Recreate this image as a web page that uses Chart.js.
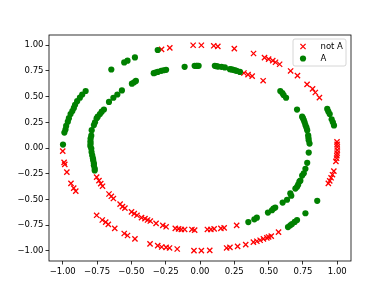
<!DOCTYPE html>
<html>
<head>
<meta charset="utf-8">
<script src="https://cdn.jsdelivr.net/npm/chart.js@4.4.1/dist/chart.umd.min.js"></script>
<style>
html,body{margin:0;padding:0;background:#fff;}
#wrap{width:390px;height:293px;position:relative;}
</style>
</head>
<body>
<div id="wrap"><canvas id="c" width="390" height="293"></canvas></div>
<script>
const xTicks = [-1, -0.75, -0.5, -0.25, 0, 0.25, 0.5, 0.75, 1];
const yTicks = [-1, -0.75, -0.5, -0.25, 0, 0.25, 0.5, 0.75, 1];
const seriesNames = ["not A", "A"];

const notA = [
  [-0.28,0.96],[-0.22,0.975],[-0.05,1.0],[0.01,1.0],[0.10,0.995],[0.13,0.99],[0.25,0.967],[0.39,0.92],
  [0.47,0.88],[0.50,0.865],[0.53,0.85],[0.55,0.835],[0.58,0.815],[0.66,0.75],[0.71,0.705],[0.78,0.62],
  [0.82,0.575],[0.84,0.54],[0.87,0.49],
  [0.32,0.73],[0.35,0.715],[0.38,0.70],[0.46,0.655],
  [0.998,0.06],[0.999,0.035],[1.0,0.01],[1.0,-0.02],[0.999,-0.05],[0.997,-0.075],[0.995,-0.10],[0.99,-0.13],
  [0.975,-0.225],[0.965,-0.26],[0.955,-0.29],[0.945,-0.32],[0.935,-0.345],
  [-1.0,-0.03],[-0.99,-0.14],[-0.985,-0.16],[-0.97,-0.235],[-0.94,-0.345],[-0.92,-0.39],[-0.905,-0.42],
  [-0.753,-0.283],[-0.736,-0.318],[-0.723,-0.347],[-0.710,-0.372],[-0.663,-0.448],[-0.646,-0.470],[-0.631,-0.492],
  [-0.582,-0.547],[-0.565,-0.570],[-0.547,-0.586],[-0.499,-0.622],[-0.479,-0.639],[-0.459,-0.655],[-0.426,-0.678],
  [-0.401,-0.688],[-0.382,-0.701],[-0.362,-0.711],[-0.320,-0.734],[-0.271,-0.753],[-0.247,-0.767],[-0.180,-0.783],
  [-0.156,-0.787],[-0.136,-0.793],[-0.112,-0.793],[-0.059,-0.793],[-0.039,-0.799],[0.054,-0.793],[0.079,-0.793],
  [0.103,-0.787],[0.152,-0.783],[0.176,-0.777],[0.267,-0.753],
  [-0.753,-0.655],[-0.712,-0.701],[-0.687,-0.721],[-0.668,-0.743],[-0.621,-0.783],[-0.552,-0.832],[-0.528,-0.852],
  [-0.474,-0.885],[-0.364,-0.934],[-0.308,-0.950],[-0.279,-0.964],[-0.247,-0.967],[-0.222,-0.973],[-0.166,-0.983],
  [-0.044,-0.999],[0.010,-0.999],[0.071,-0.996],[0.194,-0.973],[0.218,-0.967],[0.274,-0.957],[0.333,-0.940],
  [0.389,-0.917],[0.414,-0.908],[0.438,-0.898],[0.462,-0.885],[0.487,-0.875],[0.50,-0.866],[0.519,-0.858],[0.572,-0.819]
];

const isA = [
  [-0.308,0.954],[-0.646,0.764],[-0.552,0.833],[-0.528,0.850],[-0.474,0.882],
  [-0.833,0.555],[-0.858,0.521],[-0.875,0.49],[-0.895,0.456],[-0.91,0.42],[-0.919,0.39],[-0.93,0.36],
  [-0.943,0.33],[-0.955,0.29],[-0.963,0.256],[-0.975,0.215],[-0.98,0.18],[-0.988,0.15],[-0.998,0.033],
  [0.927,0.38],[0.935,0.355],[0.945,0.33],[0.959,0.28],[0.968,0.25],[0.976,0.22],
  [0.854,-0.514],[0.768,-0.635],[0.707,-0.701],[0.69,-0.72],[0.67,-0.74],[0.658,-0.753],[0.641,-0.77],
  [-0.337,0.728],[-0.325,0.735],[-0.308,0.741],[-0.283,0.751],[-0.265,0.757],[-0.247,0.761],[-0.112,0.790],
  [-0.039,0.800],[-0.020,0.80],[-0.010,0.800],
  [-0.496,0.626],[-0.480,0.64],[-0.467,0.653],
  [-0.663,0.449],[-0.631,0.489],[-0.602,0.521],[-0.569,0.560],
  [-0.745,0.305],[-0.729,0.331],[-0.716,0.354],[-0.70,0.375],
  [-0.753,0.289],[-0.765,0.25],[-0.773,0.223],[-0.789,0.174],[-0.792,0.12],[-0.797,0.092],[-0.798,0.065],
  [-0.797,0.043],[-0.799,0.02],[-0.792,-0.006],[-0.79,-0.04],[-0.785,-0.072],[-0.78,-0.10],[-0.778,-0.121],
  [-0.773,-0.15],[-0.773,-0.170],[-0.767,-0.20],[-0.767,-0.219],
  [-0.026,0.800],[0.108,0.800],[0.12,0.797],[0.132,0.793],[0.157,0.790],[0.181,0.784],[0.218,0.767],
  [0.23,0.765],[0.242,0.761],[0.255,0.756],[0.267,0.751],[0.291,0.741],
  [0.585,0.555],[0.60,0.535],[0.609,0.515],[0.627,0.489],[0.707,0.374],[0.744,0.305],[0.75,0.29],
  [0.756,0.272],[0.762,0.25],[0.768,0.223],[0.775,0.2],[0.781,0.174],[0.788,0.124],[0.79,0.1],[0.792,0.076],
  [0.798,0.043],[0.792,-0.045],[0.781,-0.144],[0.768,-0.203],[0.756,-0.246],[0.744,-0.268],[0.731,-0.318],
  [0.724,-0.327],[0.715,-0.357],[0.707,-0.377],[0.695,-0.395],[0.658,-0.442],[0.665,-0.465],[0.634,-0.504],
  [0.602,-0.531],[0.548,-0.580],[0.535,-0.59],[0.524,-0.606],[0.495,-0.629],[0.414,-0.678],[0.396,-0.694],[0.352,-0.721]
];

const RED = '#ff0000', GREEN = '#008000';
const FONT = '"DejaVu Sans", sans-serif';
const FS = 8.5;

function fmt(v){ return v.toFixed(2).replace('-', '\u2212'); }

const framePlugin = {
  id: 'frame',
  afterDraw(chart){
    const {ctx, chartArea:a} = chart;
    ctx.save();
    ctx.strokeStyle = '#000';
    ctx.lineWidth = 0.8;
    ctx.strokeRect(a.left, a.top, a.right - a.left, a.bottom - a.top);
    // legend
    const bx = a.right - 58, by = a.top + 4, bw = 53, bh = 27, r = 2;
    ctx.globalAlpha = 0.8;
    ctx.fillStyle = '#fff';
    ctx.beginPath();
    ctx.roundRect(bx, by, bw, bh, r);
    ctx.fill();
    ctx.globalAlpha = 1;
    ctx.strokeStyle = '#cccccc';
    ctx.lineWidth = 0.8;
    ctx.stroke();
    const mx = bx + 10;
    const y1 = by + 7.5, y2 = by + 19.5;
    ctx.strokeStyle = RED; ctx.lineWidth = 1.3;
    ctx.beginPath();
    ctx.moveTo(mx-2.6, y1-2.6); ctx.lineTo(mx+2.6, y1+2.6);
    ctx.moveTo(mx-2.6, y1+2.6); ctx.lineTo(mx+2.6, y1-2.6);
    ctx.stroke();
    ctx.fillStyle = GREEN;
    ctx.beginPath(); ctx.arc(mx, y2, 3.1, 0, Math.PI*2); ctx.fill();
    ctx.fillStyle = '#000';
    ctx.font = FS + 'px ' + FONT;
    ctx.textBaseline = 'middle';
    ctx.textAlign = 'left';
    ctx.fillText(seriesNames[0], bx + 27.5, y1);
    ctx.fillText(seriesNames[1], bx + 27.5, y2);
    ctx.restore();
  }
};

function axis(ticksArr, isX){
  return {
    type: 'linear',
    min: -1.1, max: 1.1,
    afterBuildTicks(s){ s.ticks = ticksArr.map(v => ({value: v})); },
    afterFit(s){ if (isX) s.height = 32; else s.width = 49; },
    grid: { display: true, drawOnChartArea: false, drawTicks: true, tickLength: 3.5, tickWidth: 0.8, tickColor: '#000' },
    border: { display: false },
    ticks: {
      color: '#000', padding: 2,
      font: { family: FONT, size: FS },
      maxRotation: 0, autoSkip: false,
      callback: (v) => fmt(v)
    }
  };
}

new Chart(document.getElementById('c'), {
  type: 'scatter',
  data: {
    datasets: [
      { label: seriesNames[0], data: notA.map(p => ({x:p[0], y:p[1]})), order: 1,
        pointStyle: 'crossRot', pointRadius: 3.7, pointBorderColor: RED, pointBorderWidth: 1.3,
        pointBackgroundColor: RED, pointHoverRadius: 3.7 },
      { label: seriesNames[1], data: isA.map(p => ({x:p[0], y:p[1]})), order: 0,
        pointStyle: 'circle', pointRadius: 3.1, pointBorderWidth: 0,
        pointBackgroundColor: GREEN, pointBorderColor: GREEN, pointHoverRadius: 3.1 }
    ]
  },
  options: {
    responsive: false, animation: false,
    layout: { padding: { left: 0, right: 39, top: 35, bottom: 0 } },
    plugins: { legend: { display: false }, tooltip: { enabled: false } },
    scales: { x: axis(xTicks, true), y: axis(yTicks, false) }
  },
  plugins: [framePlugin]
});
</script>
</body>
</html>
